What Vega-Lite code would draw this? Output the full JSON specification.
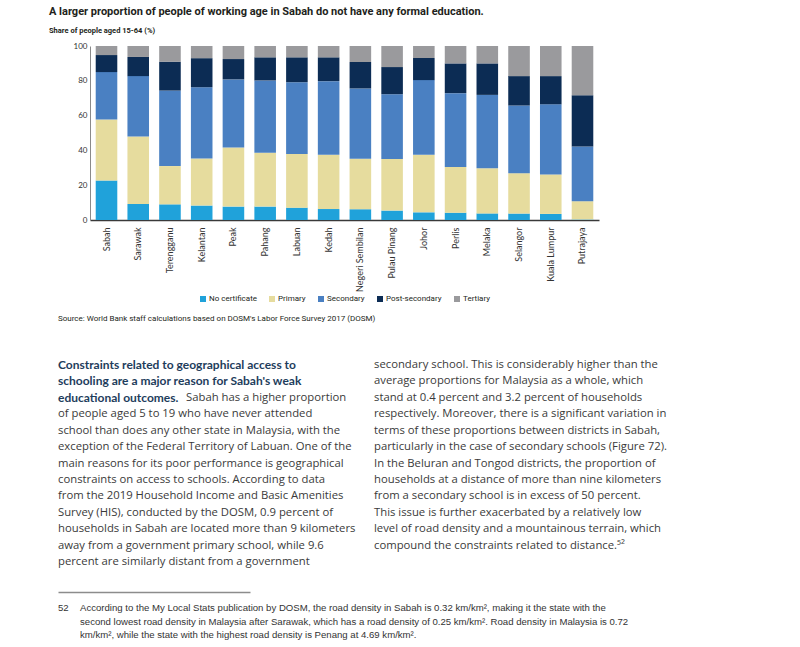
{
  "$schema": "https://vega.github.io/schema/vega-lite/v6.json",
  "background": "white",
  "padding": {"left": 49, "top": 5, "right": 5, "bottom": 5},
  "title": {
    "text": "A larger proportion of people of working age in Sabah do not have any formal education.",
    "subtitle": "Share of people aged 15-64 (%)",
    "anchor": "start",
    "dx": -9,
    "font": "Roboto",
    "fontSize": 11,
    "fontWeight": "bold",
    "color": "#231f20",
    "subtitleFont": "Roboto",
    "subtitleFontSize": 7.5,
    "subtitleFontWeight": "bold",
    "subtitleColor": "#231f20",
    "subtitlePadding": 10,
    "offset": 8
  },
  "spacing": 12,
  "resolve": {"scale": {"color": "independent"}, "legend": {"color": "independent"}},
  "vconcat": [
    {
      "width": 509,
      "height": 174,
      "data": {
        "values": [
          {"state": "Sabah", "level": "No certificate", "share": 22.7},
          {"state": "Sabah", "level": "Primary", "share": 35.0},
          {"state": "Sabah", "level": "Secondary", "share": 27.3},
          {"state": "Sabah", "level": "Post-secondary", "share": 9.8},
          {"state": "Sabah", "level": "Tertiary", "share": 5.2},
          {"state": "Sarawak", "level": "No certificate", "share": 9.2},
          {"state": "Sarawak", "level": "Primary", "share": 38.8},
          {"state": "Sarawak", "level": "Secondary", "share": 34.7},
          {"state": "Sarawak", "level": "Post-secondary", "share": 11.0},
          {"state": "Sarawak", "level": "Tertiary", "share": 6.3},
          {"state": "Terengganu", "level": "No certificate", "share": 9.0},
          {"state": "Terengganu", "level": "Primary", "share": 22.0},
          {"state": "Terengganu", "level": "Secondary", "share": 43.4},
          {"state": "Terengganu", "level": "Post-secondary", "share": 16.6},
          {"state": "Terengganu", "level": "Tertiary", "share": 9.0},
          {"state": "Kelantan", "level": "No certificate", "share": 8.3},
          {"state": "Kelantan", "level": "Primary", "share": 27.1},
          {"state": "Kelantan", "level": "Secondary", "share": 40.9},
          {"state": "Kelantan", "level": "Post-secondary", "share": 16.7},
          {"state": "Kelantan", "level": "Tertiary", "share": 7.0},
          {"state": "Peak", "level": "No certificate", "share": 7.7},
          {"state": "Peak", "level": "Primary", "share": 34.0},
          {"state": "Peak", "level": "Secondary", "share": 39.1},
          {"state": "Peak", "level": "Post-secondary", "share": 11.7},
          {"state": "Peak", "level": "Tertiary", "share": 7.5},
          {"state": "Pahang", "level": "No certificate", "share": 7.7},
          {"state": "Pahang", "level": "Primary", "share": 31.0},
          {"state": "Pahang", "level": "Secondary", "share": 41.5},
          {"state": "Pahang", "level": "Post-secondary", "share": 13.3},
          {"state": "Pahang", "level": "Tertiary", "share": 6.5},
          {"state": "Labuan", "level": "No certificate", "share": 7.1},
          {"state": "Labuan", "level": "Primary", "share": 30.8},
          {"state": "Labuan", "level": "Secondary", "share": 41.3},
          {"state": "Labuan", "level": "Post-secondary", "share": 14.3},
          {"state": "Labuan", "level": "Tertiary", "share": 6.5},
          {"state": "Kedah", "level": "No certificate", "share": 6.3},
          {"state": "Kedah", "level": "Primary", "share": 31.2},
          {"state": "Kedah", "level": "Secondary", "share": 42.3},
          {"state": "Kedah", "level": "Post-secondary", "share": 13.7},
          {"state": "Kedah", "level": "Tertiary", "share": 6.5},
          {"state": "Negeri Sembilan", "level": "No certificate", "share": 6.2},
          {"state": "Negeri Sembilan", "level": "Primary", "share": 29.0},
          {"state": "Negeri Sembilan", "level": "Secondary", "share": 40.4},
          {"state": "Negeri Sembilan", "level": "Post-secondary", "share": 15.2},
          {"state": "Negeri Sembilan", "level": "Tertiary", "share": 9.2},
          {"state": "Pulau Pinang", "level": "No certificate", "share": 5.4},
          {"state": "Pulau Pinang", "level": "Primary", "share": 29.6},
          {"state": "Pulau Pinang", "level": "Secondary", "share": 37.3},
          {"state": "Pulau Pinang", "level": "Post-secondary", "share": 15.6},
          {"state": "Pulau Pinang", "level": "Tertiary", "share": 12.1},
          {"state": "Johor", "level": "No certificate", "share": 4.4},
          {"state": "Johor", "level": "Primary", "share": 33.1},
          {"state": "Johor", "level": "Secondary", "share": 42.9},
          {"state": "Johor", "level": "Post-secondary", "share": 12.7},
          {"state": "Johor", "level": "Tertiary", "share": 6.9},
          {"state": "Perlis", "level": "No certificate", "share": 4.2},
          {"state": "Perlis", "level": "Primary", "share": 26.2},
          {"state": "Perlis", "level": "Secondary", "share": 42.5},
          {"state": "Perlis", "level": "Post-secondary", "share": 17.1},
          {"state": "Perlis", "level": "Tertiary", "share": 10.0},
          {"state": "Melaka", "level": "No certificate", "share": 3.8},
          {"state": "Melaka", "level": "Primary", "share": 26.0},
          {"state": "Melaka", "level": "Secondary", "share": 42.1},
          {"state": "Melaka", "level": "Post-secondary", "share": 18.1},
          {"state": "Melaka", "level": "Tertiary", "share": 10.0},
          {"state": "Selangor", "level": "No certificate", "share": 3.7},
          {"state": "Selangor", "level": "Primary", "share": 23.2},
          {"state": "Selangor", "level": "Secondary", "share": 38.9},
          {"state": "Selangor", "level": "Post-secondary", "share": 16.9},
          {"state": "Selangor", "level": "Tertiary", "share": 17.3},
          {"state": "Kuala Lumpur", "level": "No certificate", "share": 3.5},
          {"state": "Kuala Lumpur", "level": "Primary", "share": 22.7},
          {"state": "Kuala Lumpur", "level": "Secondary", "share": 40.3},
          {"state": "Kuala Lumpur", "level": "Post-secondary", "share": 16.2},
          {"state": "Kuala Lumpur", "level": "Tertiary", "share": 17.3},
          {"state": "Putrajaya", "level": "No certificate", "share": 0.3},
          {"state": "Putrajaya", "level": "Primary", "share": 10.5},
          {"state": "Putrajaya", "level": "Secondary", "share": 31.5},
          {"state": "Putrajaya", "level": "Post-secondary", "share": 29.4},
          {"state": "Putrajaya", "level": "Tertiary", "share": 28.3}
        ]
      },
      "transform": [
        {"calculate": "indexof(['No certificate', 'Primary', 'Secondary', 'Post-secondary', 'Tertiary'], datum.level)", "as": "rank"}
      ],
      "mark": {"type": "bar"},
      "encoding": {
        "x": {
          "field": "state",
          "type": "nominal",
          "sort": ["Sabah", "Sarawak", "Terengganu", "Kelantan", "Peak", "Pahang", "Labuan", "Kedah", "Negeri Sembilan", "Pulau Pinang", "Johor", "Perlis", "Melaka", "Selangor", "Kuala Lumpur", "Putrajaya"],
          "scale": {"paddingInner": 0.32, "paddingOuter": 0.18},
          "axis": {
            "title": null,
            "labelAngle": -90,
            "labelFont": "Lato",
            "labelFontSize": 9,
            "labelColor": "#333333",
            "labelPadding": 7,
            "ticks": false,
            "domainColor": "#3a3a3a",
            "domainWidth": 1.3
          }
        },
        "y": {
          "field": "share",
          "type": "quantitative",
          "stack": "zero",
          "scale": {"domain": [0, 100], "nice": false},
          "axis": {
            "title": null,
            "values": [0, 20, 40, 60, 80, 100],
            "grid": false,
            "ticks": false,
            "domainColor": "#8a8a8a",
            "labelFont": "Lato",
            "labelFontSize": 8,
            "labelColor": "#333333",
            "labelPadding": 3,
            "minExtent": 32
          }
        },
        "order": {"field": "rank", "type": "quantitative"},
        "color": {
          "field": "level",
          "type": "nominal",
          "sort": ["No certificate", "Primary", "Secondary", "Post-secondary", "Tertiary"],
          "scale": {
            "domain": ["No certificate", "Primary", "Secondary", "Post-secondary", "Tertiary"],
            "range": ["#20a2da", "#e6dc9e", "#4a80c2", "#0c2c54", "#9a9a9d"]
          },
          "legend": {
            "orient": "bottom",
            "direction": "horizontal",
            "title": null,
            "symbolType": "square",
            "symbolSize": 36,
            "symbolStrokeWidth": 0,
            "labelFont": "Roboto",
            "labelFontSize": 8,
            "labelColor": "#231f20",
            "labelOffset": 2,
            "columnPadding": 11,
            "offset": 3
          }
        }
      }
    },
    {
      "spacing": 24,
      "vconcat": [
        {
          "width": 316,
          "height": 197,
          "title": {
            "text": "Source: World Bank staff calculations based on DOSM's Labor Force Survey 2017 (DOSM)",
            "orient": "top",
            "anchor": "start",
            "frame": "bounds",
            "font": "Roboto",
            "fontSize": 8,
            "fontWeight": "normal",
            "color": "#231f20",
            "offset": 36
          },
          "data": {
            "values": [
              {"col": "left", "line": 1, "style": "lead", "text": "Constraints related to geographical access to"},
              {"col": "left", "line": 2, "style": "lead", "text": "schooling are a major reason for Sabah's weak"},
              {"col": "left", "line": 3, "style": "lead", "text": "educational outcomes."},
              {"col": "left", "line": 3, "style": "after", "text": "Sabah has a higher proportion"},
              {"col": "left", "line": 4, "style": "body", "text": "of people aged 5 to 19 who have never attended"},
              {"col": "left", "line": 5, "style": "body", "text": "school than does any other state in Malaysia, with the"},
              {"col": "left", "line": 6, "style": "body", "text": "exception of the Federal Territory of Labuan. One of the"},
              {"col": "left", "line": 7, "style": "body", "text": "main reasons for its poor performance is geographical"},
              {"col": "left", "line": 8, "style": "body", "text": "constraints on access to schools. According to data"},
              {"col": "left", "line": 9, "style": "body", "text": "from the 2019 Household Income and Basic Amenities"},
              {"col": "left", "line": 10, "style": "body", "text": "Survey (HIS), conducted by the DOSM, 0.9 percent of"},
              {"col": "left", "line": 11, "style": "body", "text": "households in Sabah are located more than 9 kilometers"},
              {"col": "left", "line": 12, "style": "body", "text": "away from a government primary school, while 9.6"},
              {"col": "left", "line": 13, "style": "body", "text": "percent are similarly distant from a government"},
              {"col": "right", "line": 1, "style": "body", "text": "secondary school. This is considerably higher than the"},
              {"col": "right", "line": 2, "style": "body", "text": "average proportions for Malaysia as a whole, which"},
              {"col": "right", "line": 3, "style": "body", "text": "stand at 0.4 percent and 3.2 percent of households"},
              {"col": "right", "line": 4, "style": "body", "text": "respectively. Moreover, there is a significant variation in"},
              {"col": "right", "line": 5, "style": "body", "text": "terms of these proportions between districts in Sabah,"},
              {"col": "right", "line": 6, "style": "body", "text": "particularly in the case of secondary schools (Figure 72)."},
              {"col": "right", "line": 7, "style": "body", "text": "In the Beluran and Tongod districts, the proportion of"},
              {"col": "right", "line": 8, "style": "body", "text": "households at a distance of more than nine kilometers"},
              {"col": "right", "line": 9, "style": "body", "text": "from a secondary school is in excess of 50 percent."},
              {"col": "right", "line": 10, "style": "body", "text": "This issue is further exacerbated by a relatively low"},
              {"col": "right", "line": 11, "style": "body", "text": "level of road density and a mountainous terrain, which"},
              {"col": "right", "line": 12, "style": "body", "text": "compound the constraints related to distance.⁵²"}
            ]
          },
          "encoding": {
            "x": {"field": "col", "type": "nominal", "scale": {"type": "point", "domain": ["left", "right"], "padding": 0, "range": [-32, 284]}, "axis": null},
            "y": {"field": "line", "type": "quantitative", "scale": {"domain": [1, 13], "nice": false, "zero": false, "reverse": true}, "axis": null},
            "text": {"field": "text"}
          },
          "layer": [
            {
              "transform": [{"filter": "datum.style == 'lead'"}],
              "mark": {"type": "text", "align": "left", "baseline": "middle", "font": "Lato", "fontSize": 12, "fontWeight": "bold", "color": "#1e3d5c"}
            },
            {
              "transform": [{"filter": "datum.style == 'body'"}],
              "mark": {"type": "text", "align": "left", "baseline": "middle", "font": "Open Sans", "fontSize": 11.3, "color": "#3a3a3a"}
            },
            {
              "transform": [{"filter": "datum.style == 'after'"}],
              "mark": {"type": "text", "align": "left", "baseline": "middle", "font": "Open Sans", "fontSize": 11.3, "color": "#3a3a3a", "dx": 128}
            }
          ]
        },
        {
          "width": 192,
          "height": 27,
          "data": {
            "values": [
              {"col": "left", "line": 1, "part": "num", "text": "52"},
              {"col": "left", "line": 1, "part": "note", "text": "According to the My Local Stats publication by DOSM, the road density in Sabah is 0.32 km/km², making it the state with the"},
              {"col": "left", "line": 2, "part": "note", "text": "second lowest road density in Malaysia after Sarawak, which has a road density of 0.25 km/km². Road density in Malaysia is 0.72"},
              {"col": "left", "line": 3, "part": "note", "text": "km/km², while the state with the highest road density is Penang at 4.69 km/km²."}
            ]
          },
          "encoding": {
            "x": {
              "field": "col",
              "type": "nominal",
              "scale": {"type": "point", "domain": ["left"], "padding": 0, "align": 0, "range": [-32, 160]},
              "axis": {"orient": "top", "title": null, "labels": false, "ticks": false, "domain": true, "domainColor": "#8c8c8c", "domainWidth": 1.5, "offset": 16}
            },
            "y": {"field": "line", "type": "quantitative", "scale": {"domain": [1, 3], "nice": false, "zero": false, "reverse": true}, "axis": null},
            "text": {"field": "text"}
          },
          "layer": [
            {
              "transform": [{"filter": "datum.part == 'num'"}],
              "mark": {"type": "text", "align": "left", "baseline": "middle", "font": "Liberation Sans", "fontSize": 9.6, "color": "#333333"}
            },
            {
              "transform": [{"filter": "datum.part == 'note'"}],
              "mark": {"type": "text", "align": "left", "baseline": "middle", "font": "Liberation Sans", "fontSize": 9.6, "color": "#333333", "dx": 22}
            }
          ]
        }
      ]
    }
  ],
  "config": {
    "view": {"stroke": null},
    "legend": {"layout": {"bottom": {"anchor": "middle"}}}
  }
}
